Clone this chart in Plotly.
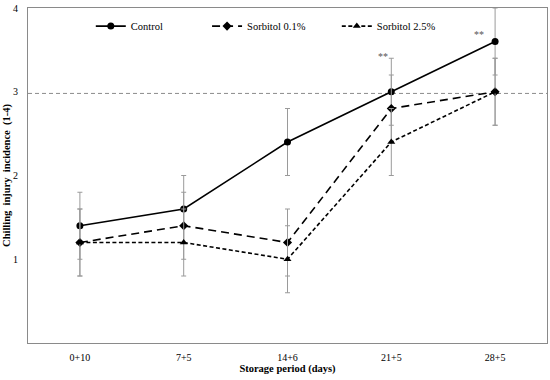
import plotly.graph_objects as go

categories = ["0+10", "7+5", "14+6", "21+5", "28+5"]
control = [1.4, 1.6, 2.4, 3.0, 3.6]
sorb01 = [1.2, 1.4, 1.2, 2.8, 3.0]
sorb25 = [1.2, 1.2, 1.0, 2.4, 3.0]
err_control = [0.4, 0.4, 0.4, 0.4, 0.4]
err_sorb01 = [0.4, 0.4, 0.4, 0.4, 0.4]
err_sorb25 = [0.4, 0.4, 0.4, 0.4, 0.4]
ref_level = 2.98
sig_marks = [("21+5", 3.42, "**", -8), ("28+5", 3.68, "**", -16)]

FONT = "Liberation Serif, Times New Roman, serif"
ERR = dict(type="data", thickness=1, width=2.5, color="#9a9a9a")

fig = go.Figure()
fig.add_trace(go.Scatter(
    x=categories, y=control, name="Control", mode="lines+markers", legend="legend",
    line=dict(color="black", width=1.6, dash="solid"),
    marker=dict(symbol="circle", size=7, color="black"),
    error_y=dict(array=err_control, **ERR)))
fig.add_trace(go.Scatter(
    x=categories, y=sorb01, name="Sorbitol 0.1%", mode="lines+markers", legend="legend2",
    line=dict(color="black", width=1.6, dash="8px,5px"),
    marker=dict(symbol="diamond", size=7, color="black"),
    error_y=dict(array=err_sorb01, **ERR)))
fig.add_trace(go.Scatter(
    x=categories, y=sorb25, name="Sorbitol 2.5%", mode="lines+markers", legend="legend3",
    line=dict(color="black", width=1.6, dash="4px,2.5px"),
    marker=dict(symbol="triangle-up", size=7, color="black"),
    error_y=dict(array=err_sorb25, **ERR)))

fig.add_shape(type="line", xref="paper", yref="y", x0=0, x1=1, y0=ref_level, y1=ref_level,
              line=dict(color="#8c8c8c", width=1, dash="4px,3px"), layer="below")

for cat, yv, txt, dx in sig_marks:
    fig.add_annotation(x=cat, y=yv, text=txt, showarrow=False, xshift=dx,
                       font=dict(family=FONT, size=10, color="#555555"))

LEG = dict(orientation="h", y=0.946, xanchor="left", yanchor="middle",
           font=dict(family=FONT, size=10.5, color="black"), bgcolor="rgba(0,0,0,0)")

fig.update_layout(
    width=550, height=380,
    margin=dict(l=28, r=3, t=8, b=37),
    paper_bgcolor="white", plot_bgcolor="white",
    font=dict(family=FONT, size=10, color="black"),
    showlegend=True,
    legend=dict(x=0.121, **LEG),
    legend2=dict(x=0.345, **LEG),
    legend3=dict(x=0.595, **LEG),
    xaxis=dict(range=[-0.5, 4.5], showline=True, mirror=True, linecolor="#8a8a8a", linewidth=1,
               ticks="", showgrid=False, zeroline=False, automargin=False, ticklabelstandoff=5,
               title=dict(text="<b>Storage period (days)</b>", font=dict(family=FONT, size=10.5), standoff=0),
               tickfont=dict(family=FONT, size=10)),
    yaxis=dict(range=[0, 4], tickvals=[1, 2, 3, 4], showline=True, mirror=True, linecolor="#8a8a8a",
               linewidth=1, ticks="", showgrid=False, zeroline=False, automargin=False, ticklabelstandoff=7,
               title=dict(text="<b>Chilling  injury  incidence  (1-4)</b>", font=dict(family=FONT, size=10.5), standoff=0),
               tickfont=dict(family=FONT, size=10)),
)

fig.write_html("out.html", config={"displayModeBar": False},
               post_script="document.body.style.margin='0';")
